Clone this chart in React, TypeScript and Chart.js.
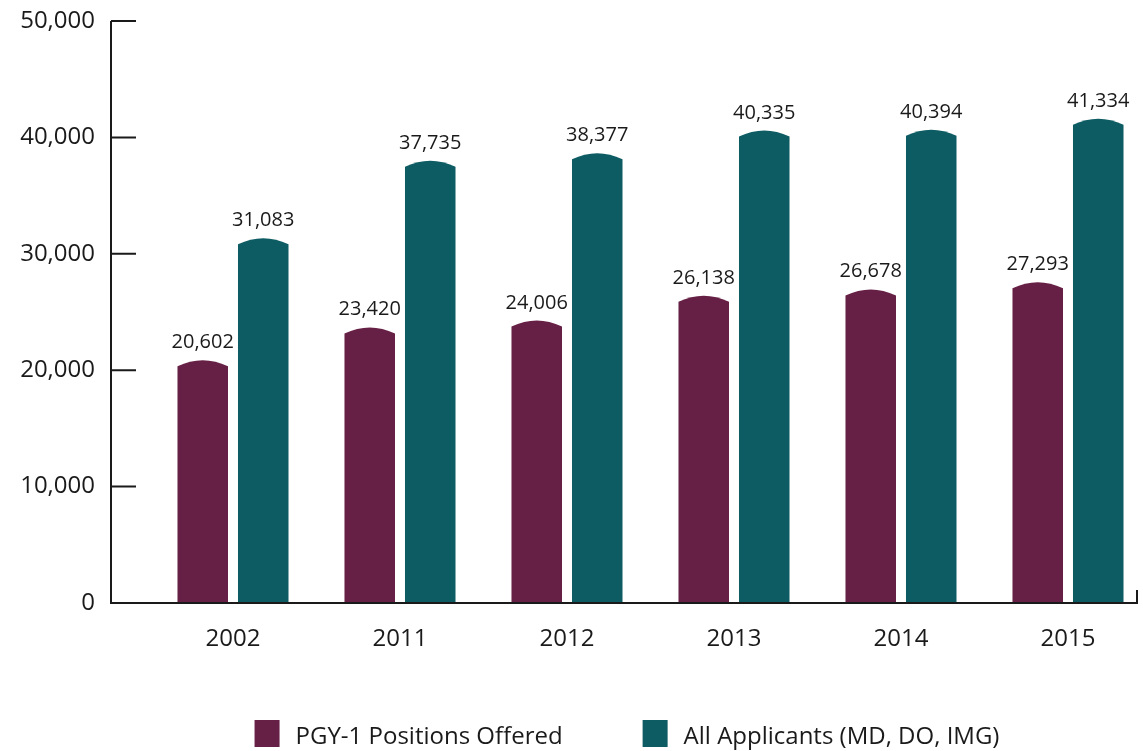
import React, { useEffect, useRef } from "react";
import { Chart, registerables, BarController, BarElement } from "chart.js";

Chart.register(...registerables);

const years = ["2002", "2011", "2012", "2013", "2014", "2015"];
const positionsOffered = [20602, 23420, 24006, 26138, 26678, 27293];
const allApplicants = [31083, 37735, 38377, 40335, 40394, 41334];
const yTickValues = [0, 10000, 20000, 30000, 40000, 50000];
const seriesNames = ["PGY-1 Positions Offered", "All Applicants (MD, DO, IMG)"];

const FONT = "'Open Sans', 'Noto Sans', sans-serif";
const TEXT = "#1a1a1a";
const fmt = (v: number) => v.toLocaleString("en-US");

// Bar element with a gently arched (cylinder-like) top
class CapBar extends BarElement {
  static id = "capBar";
  static defaults = { ...(BarElement as any).defaults };
  draw(ctx: CanvasRenderingContext2D) {
    const { x, y, base, width } = (this as any).getProps(["x", "y", "base", "width"]);
    const left = x - width / 2;
    const right = x + width / 2;
    const cap = 3;
    ctx.save();
    ctx.fillStyle = (this as any).options.backgroundColor;
    ctx.beginPath();
    ctx.moveTo(left, base);
    ctx.lineTo(left, y + cap);
    ctx.quadraticCurveTo(x, y - 3 * cap, right, y + cap);
    ctx.lineTo(right, base);
    ctx.closePath();
    ctx.fill();
    ctx.restore();
  }
}

class CapBarController extends BarController {
  static id = "capBar";
  static defaults = { ...(BarController as any).defaults, dataElementType: "capBar" };
  static overrides = (BarController as any).overrides;
}

Chart.register(CapBar as any, CapBarController as any);

const axesPlugin = {
  id: "customAxes",
  afterDatasetsDraw(chart: any) {
    const { ctx, chartArea, scales } = chart;
    const { left, right, top, bottom } = chartArea;
    const y = scales.y;
    ctx.save();
    ctx.strokeStyle = TEXT;
    ctx.lineWidth = 2;
    ctx.beginPath();
    ctx.moveTo(left, top);
    ctx.lineTo(left, bottom);
    ctx.lineTo(right, bottom);
    ctx.lineTo(right, bottom - 13);
    y.ticks.forEach((t: any) => {
      const py = y.getPixelForValue(t.value);
      ctx.moveTo(left, py);
      ctx.lineTo(left + 25, py);
    });
    ctx.stroke();

    // value labels
    ctx.fillStyle = TEXT;
    ctx.font = `20px ${FONT}`;
    ctx.textAlign = "center";
    ctx.textBaseline = "alphabetic";
    chart.data.datasets.forEach((ds: any, di: number) => {
      const meta = chart.getDatasetMeta(di);
      meta.data.forEach((bar: any, i: number) => {
        const v = ds.data[i].y;
        ctx.fillText(fmt(v), bar.x, bar.y - 15);
      });
    });

    // legend
    ctx.font = `24px ${FONT}`;
    ctx.textAlign = "left";
    const box = 25;
    const gapText = 16;
    const gapItem = 80;
    const widths = chart.data.datasets.map(
      (ds: any) => box + gapText + ctx.measureText(ds.label).width
    );
    const total = widths.reduce((a: number, b: number) => a + b, 0) + gapItem * (widths.length - 1);
    let x = (left + right) / 2 + 3 - total / 2;
    const boxTop = chart.height - 31;
    chart.data.datasets.forEach((ds: any, di: number) => {
      ctx.fillStyle = ds.backgroundColor;
      ctx.fillRect(x, boxTop, box, 27);
      ctx.fillStyle = TEXT;
      ctx.fillText(ds.label, x + box + gapText, chart.height - 7);
      x += widths[di] + gapItem;
    });
    ctx.restore();
  },
};

export default function App() {
  const ref = useRef<HTMLCanvasElement | null>(null);
  useEffect(() => {
    if (!ref.current) return;
    const pxMin = -0.7305;
    const pxMax = 5.4132;
    const chart = new Chart(ref.current, {
      type: "capBar" as any,
      data: {
        datasets: [
          {
            label: seriesNames[0],
            data: positionsOffered.map((v, i) => ({ x: i, y: v })),
            backgroundColor: "#672045",
            borderSkipped: false,
            categoryPercentage: 0.7246,
            barPercentage: 0.835,
          },
          {
            label: seriesNames[1],
            data: allApplicants.map((v, i) => ({ x: i, y: v })),
            backgroundColor: "#0d5c63",
            borderSkipped: false,
            categoryPercentage: 0.7246,
            barPercentage: 0.835,
          },
        ],
      },
      options: {
        animation: false,
        responsive: true,
        maintainAspectRatio: false,
        layout: { padding: { top: 21, right: 6, bottom: 0, left: 0 } },
        plugins: { legend: { display: false }, tooltip: { enabled: false } },
        scales: {
          x: {
            type: "linear",
            offset: false,
            min: pxMin,
            max: pxMax,
            grid: { display: false, drawTicks: false, offset: false },
            border: { display: false },
            afterBuildTicks: (scale: any) => {
              scale.ticks = years.map((_, i) => ({ value: i }));
            },
            afterFit: (scale: any) => {
              scale.height = 148;
              scale.paddingLeft = 0;
              scale.paddingRight = 0;
            },
            ticks: {
              padding: 22,
              color: TEXT,
              font: { family: FONT, size: 24 },
              maxRotation: 0,
              autoSkip: false,
              callback: (v: any) => years[Math.round(Number(v))] ?? "",
            },
          },
          y: {
            type: "linear",
            min: 0,
            max: 50000,
            grid: { display: false, drawTicks: false },
            border: { display: false },
            afterBuildTicks: (scale: any) => {
              scale.ticks = yTickValues.map((v) => ({ value: v }));
            },
            afterFit: (scale: any) => {
              scale.width = 111;
              scale.paddingTop = 0;
              scale.paddingBottom = 0;
            },
            ticks: {
              padding: 16,
              color: TEXT,
              font: { family: FONT, size: 24 },
              callback: (v: any) => fmt(Number(v)),
            },
          },
        },
      },
      plugins: [axesPlugin],
    });
    return () => chart.destroy();
  }, []);
  return (
    <div style={{ position: "fixed", left: 0, top: 0, width: 1143, height: 751, background: "#fff" }}>
      <canvas ref={ref} />
    </div>
  );
}
